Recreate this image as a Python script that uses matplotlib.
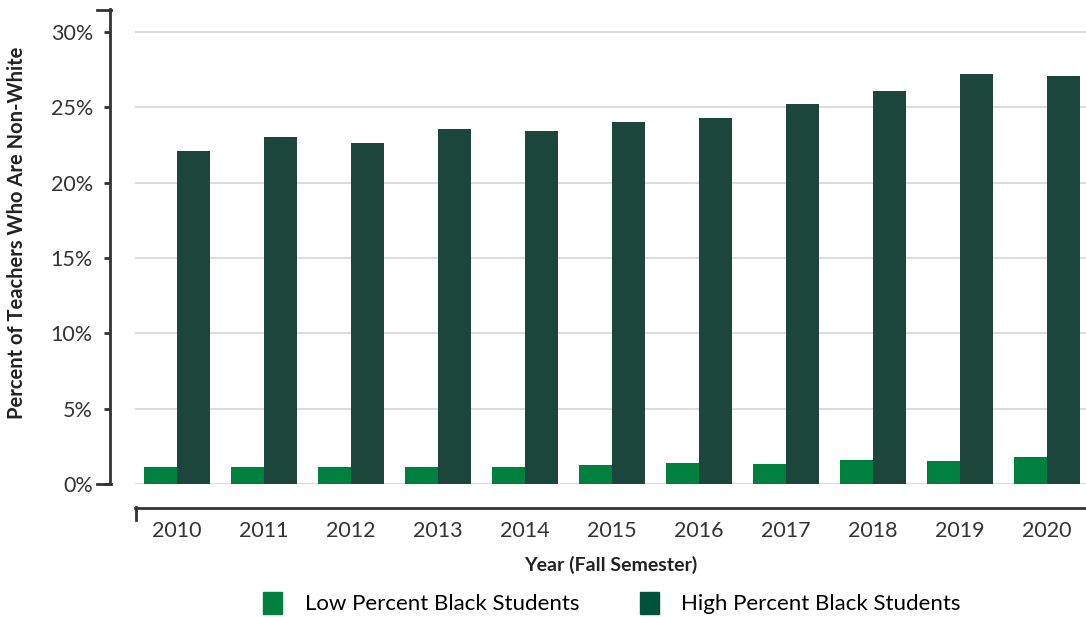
import matplotlib.pyplot as plt
import numpy as np
from matplotlib.lines import Line2D
from matplotlib.patches import Patch

# Data
years = ['2010', '2011', '2012', '2013', '2014', '2015', '2016', '2017', '2018', '2019', '2020']
low_black = [1.1, 1.1, 1.1, 1.1, 1.1, 1.25, 1.4, 1.3, 1.6, 1.5, 1.8]
high_black = [22.1, 23.0, 22.6, 23.55, 23.4, 24.0, 24.3, 25.2, 26.1, 27.2, 27.1]
y_ticks = [0, 5, 10, 15, 20, 25, 30]

low_color = '#00803F'
high_color = '#1C453B'
legend_high_color = '#00533A'
spine_color = '#333333'

plt.rcParams['font.family'] = ['Lato', 'DejaVu Sans']

fig = plt.figure(figsize=(10.86, 6.17), dpi=100)
ax = fig.add_axes([0.1243, 0.2156, 0.8757, 0.7693])

x = np.arange(len(years))
w = 0.38
ax.bar(x - w / 2, low_black, width=w, color=low_color, zorder=3)
ax.bar(x + w / 2, high_black, width=w, color=high_color, zorder=3)

ax.set_xlim(-0.483, 10.45)
ax.set_ylim(0, 31.5)
ax.set_yticks(y_ticks)
ax.set_yticklabels([f'{t}%' for t in y_ticks])
ax.set_xticks(x)
ax.set_xticklabels(years)

# gridlines
for t in y_ticks:
    ax.axhline(t, color='#dcdcdc', lw=1.5, zorder=1)

for s in ['top', 'right']:
    ax.spines[s].set_visible(False)
ax.spines['left'].set_position(('outward', 18))
ax.spines['bottom'].set_position(('outward', 17.3))
for s in ['left', 'bottom']:
    ax.spines[s].set_color(spine_color)
    ax.spines[s].set_linewidth(2)

ax.tick_params(axis='y', length=4.3, width=2, color=spine_color, pad=8,
               labelsize=15.5, labelcolor='#333333')
ax.tick_params(axis='x', length=0, pad=9, labelsize=15.5, labelcolor='#333333')

# end caps on the axis lines (pixel positions in figure)
W, H = 1086, 617
def cap(x0, y0, x1, y1):
    fig.add_artist(Line2D([x0 / W, x1 / W], [1 - y0 / H, 1 - y1 / H],
                          color=spine_color, lw=2, transform=fig.transFigure))
cap(97, 10, 111, 10)
cap(97, 484, 111, 484)
cap(136, 507, 136, 520)

ax.set_ylabel('Percent of Teachers Who Are Non-White', fontsize=14.5,
              fontweight='bold', color='#222222')
ax.yaxis.set_label_coords(-0.1136, 0.53)
ax.set_xlabel('Year (Fall Semester)', fontsize=14, fontweight='bold',
              color='#222222', labelpad=11)

handles = [Patch(color=low_color), Patch(color=legend_high_color)]
fig.legend(handles, ['Low Percent Black Students', 'High Percent Black Students'],
           loc='center', bbox_to_anchor=(0.5637, 1 - 603 / H), ncol=2, frameon=False,
           fontsize=16, handlelength=0.85, handleheight=1.2, handletextpad=1.03,
           columnspacing=2.7)

fig.savefig('out.png', dpi=100)
